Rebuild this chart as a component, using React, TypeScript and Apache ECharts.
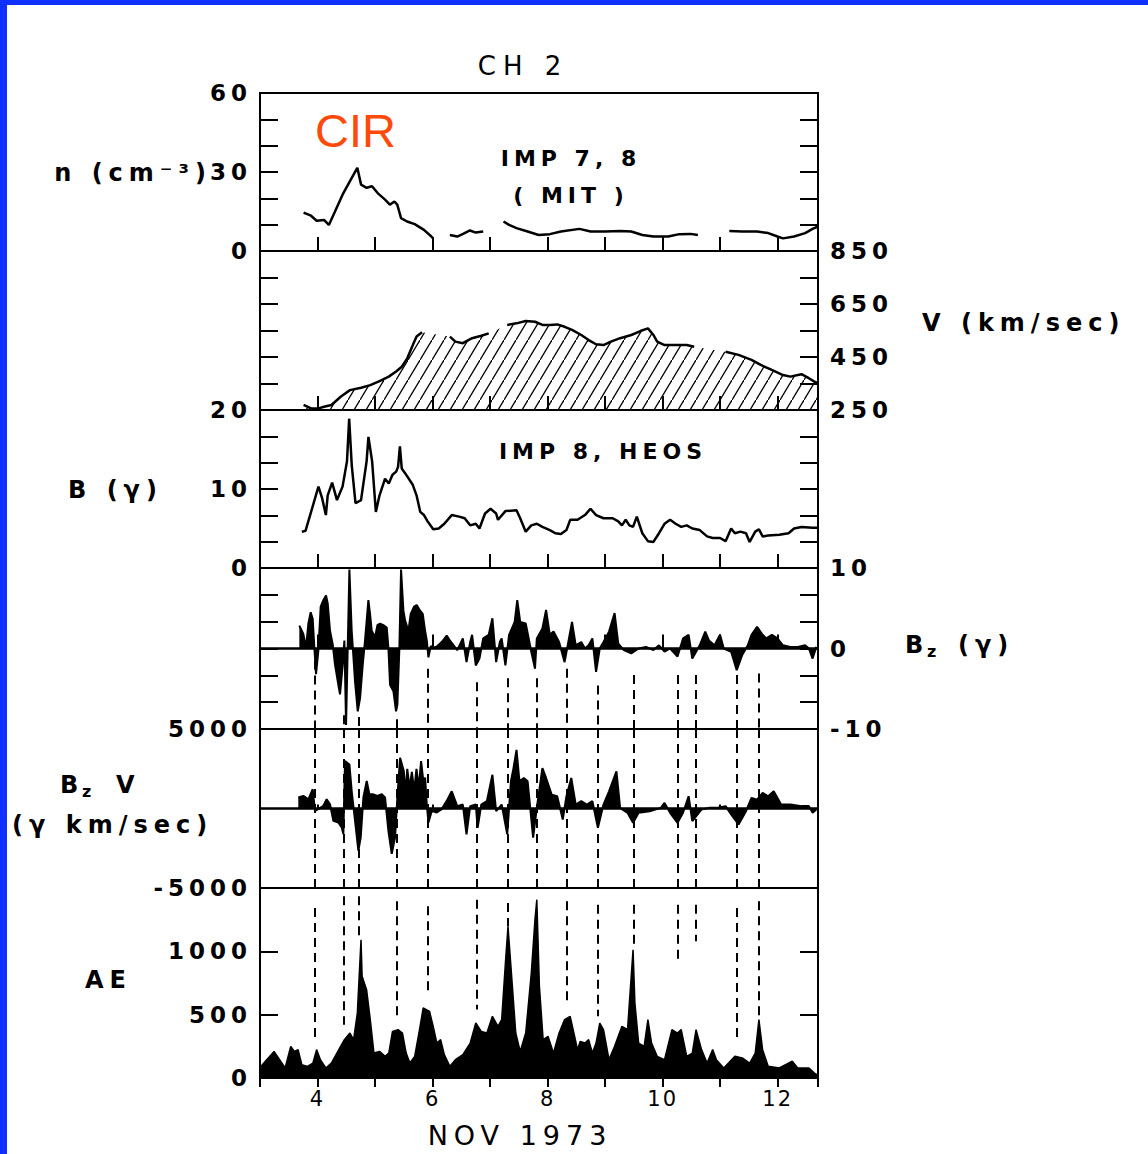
import React, { useEffect, useRef } from "react";
import * as echarts from "echarts";

// ---------------- axis ranges / tick labels ----------------
const DAY_MIN = 3;
const DAY_MAX = 12.7;
const dayTickLabels = [4, 6, 8, 10, 12];

const nTickLabels = [0, 30, 60];
const vTickLabels = [250, 450, 650, 850];
const bTickLabels = [0, 10, 20];
const bzTickLabels = [-10, 0, 10];
const bzvTickLabels = [-5000, 5000];
const aeTickLabels = [0, 500, 1000];

// ---------------- data (day of Nov 1973, value) ----------------
const nData: any[] = [
  [3.758, 14.6], [3.887, 13.4], [3.984, 11.5], [4.113, 11.8], [4.197, 9.9], [4.304, 15], [4.435, 21.4],
  [4.595, 27.8], [4.692, 31.6], [4.757, 25.2], [4.852, 24], [4.948, 24.6], [5.045, 22], [5.174, 19.5],
  [5.257, 17.6], [5.336, 18.8], [5.386, 17.6], [5.452, 12.5], [5.557, 11.2], [5.689, 10.2], [5.85, 8],
  [5.979, 5.5], [6.009, 4.8], [6.15, "-"],
  [6.3, 6.1], [6.43, 5.5], [6.53, 6.5], [6.65, 7.8], [6.75, 7.0], [6.88, 7.4], [7.05, "-"],
  [7.233, 11.2], [7.33, 9.9], [7.459, 8.7], [7.652, 7.4], [7.845, 6.1], [8.038, 6.4], [8.231, 7.4],
  [8.553, 8.4], [8.746, 7.4], [9.003, 7.4], [9.261, 7.6], [9.454, 7.4], [9.647, 6.1], [9.838, 5.5],
  [10.096, 5.5], [10.29, 6.4], [10.483, 6.5], [10.612, 6.1], [10.9, "-"],
  [11.158, 7.6], [11.383, 7.4], [11.642, 7.4], [11.835, 6.8], [11.995, 5.5], [12.091, 4.8], [12.283, 5.5],
  [12.477, 6.8], [12.605, 8.4], [12.7, 9.3],
];

const vData: any[] = [
  [3.758, 269], [3.887, 256], [4.016, 256], [4.113, 262], [4.242, 269], [4.402, 300], [4.563, 325],
  [4.757, 334], [4.917, 344], [5.078, 359], [5.238, 376], [5.367, 395], [5.464, 413], [5.56, 445],
  [5.657, 495], [5.722, 527], [5.817, 543], [6.05, "-"],
  [6.301, 527], [6.397, 508], [6.526, 502], [6.687, 521], [6.847, 530], [6.976, 539], [7.15, "-"],
  [7.297, 571], [7.459, 577], [7.619, 586], [7.781, 583], [7.91, 571], [8.038, 571], [8.167, 573],
  [8.296, 564], [8.424, 552], [8.585, 533], [8.713, 514], [8.842, 498], [8.971, 495], [9.099, 508],
  [9.261, 521], [9.454, 533], [9.614, 548], [9.743, 558], [9.84, 533], [9.904, 508], [10.033, 495],
  [10.226, 495], [10.417, 495], [10.548, 489], [10.8, "-"],
  [11.094, 470], [11.318, 458], [11.544, 439], [11.705, 420], [11.897, 401], [12.091, 382], [12.219, 376],
  [12.412, 385], [12.541, 370], [12.638, 357], [12.7, 351],
];

const bData: number[][] = [
  [3.727, 4.6], [3.791, 4.7], [3.888, 7.1], [4.016, 10.3], [4.081, 8.8], [4.145, 6.7], [4.177, 9.2],
  [4.254, 10.8], [4.338, 8.6], [4.435, 10.3], [4.512, 13.5], [4.55, 18.9], [4.595, 13.0], [4.66, 8.2],
  [4.756, 8.6], [4.853, 13.5], [4.885, 16.6], [4.949, 13.5], [5.014, 7.1], [5.078, 9.2], [5.174, 11.3],
  [5.239, 10.7], [5.303, 11.8], [5.367, 12.2], [5.4, 12.8], [5.432, 15.4], [5.464, 12.6], [5.56, 11.6],
  [5.657, 10.5], [5.721, 9.2], [5.786, 7.1], [5.85, 6.7], [5.914, 5.9], [6.011, 4.9], [6.107, 5.0],
  [6.204, 5.6], [6.333, 6.7], [6.461, 6.5], [6.558, 6.3], [6.654, 5.4], [6.751, 5.6], [6.815, 5.0],
  [6.912, 6.9], [7.008, 7.5], [7.105, 6.9], [7.137, 6.1], [7.266, 7.2], [7.459, 7.3], [7.523, 6.3],
  [7.619, 4.6], [7.716, 5.4], [7.812, 5.6], [7.909, 5.2], [8.038, 4.8], [8.134, 4.4], [8.231, 4.3],
  [8.327, 4.8], [8.392, 6.1], [8.52, 6.1], [8.649, 6.7], [8.745, 7.5], [8.842, 6.7], [8.971, 6.3],
  [9.131, 6.3], [9.228, 5.9], [9.292, 5.4], [9.357, 6.1], [9.421, 5.4], [9.485, 5.2], [9.55, 6.5],
  [9.646, 4.4], [9.743, 3.4], [9.839, 3.3], [9.936, 4.4], [10.032, 5.6], [10.129, 6.1], [10.225, 5.6],
  [10.322, 5.2], [10.418, 5.4], [10.515, 5.0], [10.644, 4.8], [10.772, 4.0], [10.869, 3.8], [10.997, 3.8],
  [11.094, 3.4], [11.19, 5.0], [11.255, 4.4], [11.351, 4.6], [11.448, 4.4], [11.512, 3.3], [11.609, 4.6],
  [11.673, 4.9], [11.737, 4.0], [11.834, 4.1], [12.027, 4.2], [12.188, 4.4], [12.284, 5.0], [12.413, 5.2],
  [12.606, 5.1], [12.7, 5.1],
];

const bzData: number[][] = [
  [3.684, 2.85], [3.753, 1.8], [3.8, 0.1], [3.841, 3.1], [3.881, 4.5], [3.916, 3.7], [3.945, 0.1],
  [3.974, -3.2], [4.014, -0.3], [4.055, 5.2], [4.101, 6.0], [4.148, 6.6], [4.177, 5.6], [4.217, 2.2],
  [4.264, 0.5], [4.304, -2.0], [4.362, -4.5], [4.391, -5.7], [4.438, -2.0], [4.467, 1.0], [4.496, -9.5],
  [4.554, 9.8], [4.594, 2.2], [4.652, -4.1], [4.699, -7.8], [4.739, -6.2], [4.786, -2.0], [4.826, 1.0],
  [4.884, 6.0], [4.913, 4.3], [4.942, 2.2], [5.0, 1.4], [5.041, 2.9], [5.087, 3.1], [5.145, 2.9],
  [5.203, 2.6], [5.232, 0.1], [5.261, -4.5], [5.319, -5.3], [5.365, -7.8], [5.388, -7.0], [5.423, 0.1],
  [5.452, 9.8], [5.493, 4.7], [5.522, 3.5], [5.58, 2.2], [5.62, 4.3], [5.678, 5.2], [5.725, 5.4],
  [5.783, 4.7], [5.829, 4.3], [5.87, 2.2], [5.899, 1.0], [5.928, -1.1], [5.968, 0.3], [6.026, 0.1],
  [6.084, 0.3], [6.159, 0.8], [6.246, 1.6], [6.3, 1.0], [6.365, 0.4], [6.429, -0.2], [6.526, 1.25],
  [6.59, -1.7], [6.654, 0.8], [6.687, 1.7], [6.751, -2.1], [6.815, -1.25], [6.88, 1.25], [6.976, 1.7],
  [7.04, 3.75], [7.105, -1.7], [7.169, 0.8], [7.201, 1.25], [7.266, -2.1], [7.33, 1.7], [7.427, 3.3],
  [7.472, 6.0], [7.523, 3.3], [7.619, 3.1], [7.716, -0.4], [7.78, -2.5], [7.812, 1.25], [7.909, 2.5],
  [7.973, 4.8], [8.038, 1.7], [8.102, 2.1], [8.199, 0.8], [8.295, -1.7], [8.359, 0.8], [8.424, 3.3],
  [8.488, 0.4], [8.585, 0.8], [8.649, 0], [8.713, 0.4], [8.778, 1.25], [8.842, -2.9], [8.906, 0],
  [8.971, 0.8], [9.067, 2.1], [9.164, 4.4], [9.228, 0.6], [9.325, -0.2], [9.453, -0.6], [9.582, 0],
  [9.711, 0.2], [9.839, -0.2], [9.936, 0.4], [10.032, -0.4], [10.129, 0], [10.258, -1.0], [10.354, 1.25],
  [10.451, 1.7], [10.515, -1.25], [10.644, 0.4], [10.74, 2.1], [10.804, 1.0], [10.901, 0.4], [10.997, 1.7],
  [11.062, 0], [11.19, -0.4], [11.287, -2.7], [11.383, -0.8], [11.48, 0.4], [11.544, 1.7], [11.641, 2.7],
  [11.737, 1.7], [11.801, 1.25], [11.898, 1.7], [11.995, 1.25], [12.091, 0.4], [12.22, 0.2], [12.348, 0.2],
  [12.477, 0.4], [12.542, 0], [12.606, -1.25], [12.67, 0.2],
];

const bzvData: number[][] = [
  [3.666, 690], [3.753, 790], [3.841, 580], [3.916, 1210], [3.956, -150], [4.014, -40], [4.101, 170],
  [4.159, 580], [4.217, 270], [4.275, -770], [4.362, -880], [4.42, -1190], [4.449, -1600], [4.478, 2980],
  [4.554, 2770], [4.594, 1100], [4.652, -770], [4.71, -2650], [4.751, -1810], [4.797, 690], [4.855, 1730],
  [4.901, 900], [4.959, 900], [5.041, 790], [5.116, 900], [5.174, 690], [5.232, -1400], [5.29, -2850],
  [5.348, -1810], [5.388, 690], [5.435, 3190], [5.5, 2350], [5.53, 900], [5.56, 2500], [5.6, 1300],
  [5.64, 2300], [5.68, 1100], [5.72, 2500], [5.76, 1300], [5.8, 2980], [5.84, 1700], [5.87, 1940],
  [5.899, 270], [5.928, -880], [5.986, -150], [6.073, -250], [6.159, -40], [6.246, 480], [6.333, 1080],
  [6.429, 150], [6.526, 250], [6.59, -1620], [6.654, 150], [6.751, 250], [6.783, -1210], [6.847, 250],
  [6.944, 460], [7.04, 2120], [7.105, -170], [7.201, 250], [7.298, -1620], [7.362, 1710], [7.407, 2540],
  [7.459, 3690], [7.51, 1710], [7.587, 1920], [7.652, 1710], [7.748, -1830], [7.812, 40], [7.909, 2540],
  [7.973, 1920], [8.07, 870], [8.166, 770], [8.263, -690], [8.327, 770], [8.411, 1920], [8.488, 250],
  [8.585, 460], [8.681, 250], [8.778, 460], [8.874, -1210], [8.971, 250], [9.067, 1080], [9.196, 2330],
  [9.26, 40], [9.389, -270], [9.485, -900], [9.582, -270], [9.775, -170], [9.968, 40], [10.032, 350],
  [10.129, -270], [10.258, -900], [10.354, -270], [10.451, 770], [10.515, -790], [10.676, -60], [10.804, 40],
  [10.933, 40], [11.094, 150], [11.19, -370], [11.319, -1000], [11.448, -170], [11.544, 670], [11.641, 560],
  [11.737, 980], [11.834, 770], [11.93, 1080], [12.059, 250], [12.22, 250], [12.413, 150], [12.542, 150],
  [12.606, -270], [12.67, -60],
];

const aeData: number[][] = [
  [3.0, 50], [3.019, 92], [3.116, 145], [3.244, 210], [3.341, 145], [3.437, 79], [3.534, 250], [3.598, 210],
  [3.662, 224], [3.727, 105], [3.823, 92], [3.92, 118], [3.984, 224], [4.049, 145], [4.145, 79], [4.241, 118],
  [4.37, 224], [4.467, 303], [4.563, 355], [4.627, 303], [4.692, 513], [4.724, 803], [4.756, 1092],
  [4.775, 803], [4.853, 697], [4.917, 461], [4.981, 197], [5.078, 210], [5.174, 171], [5.239, 197],
  [5.303, 368], [5.4, 382], [5.477, 355], [5.541, 197], [5.606, 118], [5.689, 171], [5.773, 382],
  [5.837, 553], [5.947, 526], [6.011, 408], [6.075, 276], [6.14, 303], [6.204, 184], [6.3, 92], [6.397, 145],
  [6.526, 184], [6.654, 276], [6.751, 434], [6.847, 368], [6.944, 355], [7.04, 487], [7.137, 408],
  [7.201, 461], [7.266, 908], [7.311, 1198], [7.362, 882], [7.446, 355], [7.523, 210], [7.619, 355],
  [7.716, 829], [7.78, 1250], [7.812, 1408], [7.857, 724], [7.922, 303], [8.006, 329], [8.102, 197],
  [8.199, 355], [8.295, 461], [8.392, 487], [8.456, 355], [8.52, 224], [8.565, 289], [8.649, 276],
  [8.713, 303], [8.778, 197], [8.842, 276], [8.906, 434], [8.971, 382], [9.067, 145], [9.164, 250],
  [9.292, 408], [9.389, 382], [9.453, 803], [9.485, 1013], [9.517, 592], [9.582, 276], [9.678, 250],
  [9.743, 461], [9.807, 276], [9.904, 171], [10.032, 145], [10.161, 382], [10.258, 355], [10.322, 382],
  [10.418, 171], [10.515, 197], [10.58, 382], [10.676, 224], [10.772, 118], [10.869, 224], [10.933, 145],
  [11.062, 79], [11.255, 171], [11.383, 158], [11.512, 118], [11.609, 197], [11.673, 461], [11.737, 224],
  [11.834, 92], [12.027, 79], [12.252, 132], [12.348, 79], [12.542, 79], [12.638, 39], [12.7, 20],
];

// times of the dashed guide lines and their extents
const dashDays = [3.95, 4.46, 4.72, 5.38, 5.91, 6.76, 7.3, 7.81, 8.33, 8.87, 9.49, 10.27, 10.57, 11.29, 11.67];
const bzDashTop = [-1.5, -8.3, -8.5, -8.8, -2.5, -4.2, -3.7, -3.7, -2.5, -4.6, -3.3, -3.3, -3.3, -3.3, -3.1];
const aeDashTop = [1342, 1434, 1434, 1395, 1355, 1408, 1382, null, 1395, 1368, 1368, 1368, 1368, 1342, 1395];
const aeDashBottom = [316, 421, 1092, 461, 645, 540, 1198, null, 592, 487, 1013, 908, 1079, 303, 461];

// ---------------- layout ----------------
const GRID_LEFT = 260;
const GRID_RIGHT = 330;
const gridTops = [93, 251, 410, 568, 729, 888];
const gridHeights = [158, 159, 158, 161, 159, 190];

const FAMILY = '"DejaVu Sans", sans-serif';

function pick(vals: number[]) {
  return (v: number) => {
    const m = vals.find((x) => Math.abs(x - v) < 1e-3);
    return m === undefined ? "" : String(m);
  };
}

// letter spacing per text size (the original lettering is widely spaced)
const css = `
#chart-host text { letter-spacing: 2px; }
#chart-host text[style*="23px"] { letter-spacing: 5px; }
#chart-host text[style*="24px"] { letter-spacing: 6px; }
#chart-host text[style*="22px"] { letter-spacing: 5px; }
#chart-host text[style*="26px"] { letter-spacing: 7px; }
#chart-host text[style*="27px"] { letter-spacing: 6px; }
#chart-host text[style*="47px"], #chart-host text[style*="16px"] { letter-spacing: 0px; }
`;

export default function App() {
  const ref = useRef<HTMLDivElement>(null);

  useEffect(() => {
    if (!ref.current) return;
    const chart = echarts.init(ref.current, null, { renderer: "svg" });

    // hatch pattern for the speed panel
    const hw = 12, hh = 20;
    const cv = document.createElement("canvas");
    cv.width = hw;
    cv.height = hh;
    const ctx = cv.getContext("2d")!;
    ctx.strokeStyle = "#000";
    ctx.lineWidth = 1.3;
    ctx.beginPath();
    ctx.moveTo(-1, hh + hh / hw);
    ctx.lineTo(hw + 1, -hh / hw);
    ctx.stroke();
    const hatch = { image: cv, repeat: "repeat", imageWidth: hw, imageHeight: hh };

    const axisDefs = [
      { min: 0, max: 60, interval: 10, left: nTickLabels, right: [] as number[], tick: true },
      { min: 250, max: 850, interval: 100, left: [] as number[], right: vTickLabels, tick: true },
      { min: 0, max: 20, interval: 20 / 6, left: bTickLabels, right: [] as number[], tick: true },
      { min: -10, max: 10, interval: 20 / 6, left: [] as number[], right: bzTickLabels, tick: true },
      { min: -5000, max: 5000, interval: 5000, left: bzvTickLabels, right: [] as number[], tick: false },
      { min: 0, max: 1500, interval: 500, left: aeTickLabels, right: [] as number[], tick: true },
    ];

    const grids = gridTops.map((t, i) => ({
      left: GRID_LEFT,
      right: GRID_RIGHT,
      top: t,
      height: gridHeights[i],
      show: true,
      borderColor: "#000",
      borderWidth: 2,
      backgroundColor: "transparent",
    }));

    const xAxes = gridTops.map((_, i) => {
      const last = i === gridTops.length - 1;
      return {
        type: "value",
        gridIndex: i,
        min: DAY_MIN,
        max: DAY_MAX,
        interval: 1,
        axisLine: { show: last, lineStyle: { color: "#000", width: 2 } },
        axisTick: {
          show: true,
          inside: !last,
          length: last ? 9 : i === 4 ? 4 : 14,
          lineStyle: { color: "#000", width: 2 },
        },
        splitLine: { show: false },
        axisLabel: last
          ? {
              show: true,
              margin: 10,
              color: "#000",
              fontSize: 21,
              fontFamily: FAMILY,
              formatter: (v: number) => (dayTickLabels.includes(v) ? String(v) : ""),
            }
          : { show: false },
      };
    });

    const yAxes: any[] = [];
    axisDefs.forEach((d, i) => {
      (["left", "right"] as const).forEach((pos) => {
        const labels = pos === "left" ? d.left : d.right;
        yAxes.push({
          type: "value",
          gridIndex: i,
          position: pos,
          min: d.min,
          max: d.max,
          interval: d.interval,
          axisLine: { show: false },
          axisTick: { show: d.tick, inside: true, length: 18, lineStyle: { color: "#000", width: 2 } },
          splitLine: { show: false },
          axisLabel: {
            show: labels.length > 0,
            margin: pos === "left" ? 8 : 12,
            color: "#000",
            fontSize: 23,
            fontWeight: "bold",
            fontFamily: FAMILY,
            formatter: pick(labels),
          },
        });
      });
    });

    const dashStyle = { type: [9, 6], width: 2, color: "#000" };
    const zeroLine = { yAxis: 0, lineStyle: { type: "solid", width: 2.5, color: "#000" } };

    const bzMarks: any[] = [zeroLine];
    dashDays.forEach((d, k) => {
      bzMarks.push([{ coord: [d, bzDashTop[k]] }, { coord: [d, -10] }]);
    });
    const bzvMarks: any[] = [zeroLine];
    dashDays.forEach((d) => {
      bzvMarks.push([{ coord: [d, 5000] }, { coord: [d, -5000] }]);
    });
    const aeMarks: any[] = [];
    dashDays.forEach((d, k) => {
      if (aeDashTop[k] != null) aeMarks.push([{ coord: [d, aeDashTop[k]] }, { coord: [d, aeDashBottom[k]] }]);
    });

    const mk = (data: any[]) => ({
      silent: true,
      symbol: ["none", "none"],
      label: { show: false },
      lineStyle: dashStyle,
      data,
    });

    const series: any[] = [
      {
        type: "line", xAxisIndex: 0, yAxisIndex: 0, data: nData, showSymbol: false, connectNulls: false,
        lineStyle: { color: "#000", width: 2.5 },
      },
      {
        type: "line", xAxisIndex: 1, yAxisIndex: 3, data: vData, showSymbol: false, connectNulls: true,
        lineStyle: { width: 0, opacity: 0 }, areaStyle: { color: hatch, origin: "start", opacity: 1 },
      },
      {
        type: "line", xAxisIndex: 1, yAxisIndex: 3, data: vData, showSymbol: false, connectNulls: false,
        lineStyle: { color: "#000", width: 2.5 },
      },
      {
        type: "line", xAxisIndex: 2, yAxisIndex: 4, data: bData, showSymbol: false,
        lineStyle: { color: "#000", width: 2.5 },
      },
      {
        type: "line", xAxisIndex: 3, yAxisIndex: 7, data: bzData, showSymbol: false,
        lineStyle: { color: "#000", width: 2 }, areaStyle: { color: "#000", opacity: 1 },
        markLine: mk(bzMarks),
      },
      {
        type: "line", xAxisIndex: 4, yAxisIndex: 8, data: bzvData, showSymbol: false,
        lineStyle: { color: "#000", width: 2 }, areaStyle: { color: "#000", opacity: 1 },
        markLine: mk(bzvMarks),
      },
      {
        type: "line", xAxisIndex: 5, yAxisIndex: 10, data: aeData, showSymbol: false,
        lineStyle: { color: "#000", width: 1.5 }, areaStyle: { color: "#000", opacity: 1, origin: "start" },
        markLine: mk(aeMarks),
      },
    ];

    const txt = (text: string, x: number, y: number, font: string, align = "left", fill = "#000") => ({
      type: "text",
      x,
      y,
      silent: true,
      style: {
        text,
        font,
        fill,
        textAlign: align,
        align,
        textVerticalAlign: "middle",
        verticalAlign: "middle",
      },
    });

    const NAME = `bold 24px ${FAMILY}`;
    const SUB = `bold 16px ${FAMILY}`;
    const TITLE = `bold 22px ${FAMILY}`;
    const graphic = [
      { type: "rect", shape: { x: 0, y: 0, width: 7, height: 1154 }, style: { fill: "#1030ff" }, silent: true },
      { type: "rect", shape: { x: 0, y: 0, width: 1148, height: 5 }, style: { fill: "#1030ff" }, silent: true },
      txt("CH 2", 523, 66, `26px ${FAMILY}`, "center"),
      txt("CIR", 315, 130, '47px "Liberation Sans", Arial, sans-serif', "left", "#ff4a0a"),
      txt("IMP 7, 8", 571, 158, TITLE, "center"),
      txt("( MIT )", 571, 195, TITLE, "center"),
      txt("n (cm⁻³)", 212, 173, NAME, "right"),
      txt("V (km/sec)", 922, 323, NAME, "left"),
      txt("B (γ)", 68, 490, NAME, "left"),
      txt("IMP 8, HEOS", 603, 451, TITLE, "center"),
      txt("B", 905, 645, NAME, "left"),
      txt("z", 927, 651, SUB, "left"),
      txt("(γ)", 958, 645, NAME, "left"),
      txt("B", 60, 785, NAME, "left"),
      txt("z", 82, 791, SUB, "left"),
      txt("V", 116, 785, NAME, "left"),
      txt("(γ km/sec)", 12, 825, NAME, "left"),
      txt("AE", 85, 980, NAME, "left"),
      txt("NOV 1973", 520, 1135, `27px ${FAMILY}`, "center"),
    ];

    chart.setOption({
      animation: false,
      backgroundColor: "#ffffff",
      grid: grids,
      xAxis: xAxes,
      yAxis: yAxes,
      series,
      graphic,
    });

    return () => chart.dispose();
  }, []);

  return (
    <>
      <style>{css}</style>
      <div
        id="chart-host"
        ref={ref}
        style={{ position: "fixed", left: 0, top: 0, width: 1148, height: 1154, background: "#fff" }}
      />
    </>
  );
}
